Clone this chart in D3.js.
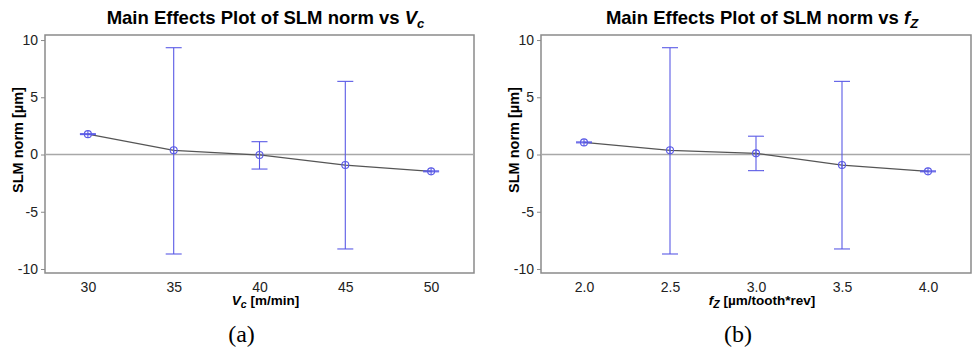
<!DOCTYPE html>
<html>
<head>
<meta charset="utf-8">
<script src="https://cdn.jsdelivr.net/npm/d3@7"></script>
<style>
  body { margin: 0; background: #fff; }
  svg { display: block; }
  text { font-family: Arial, "Liberation Sans", sans-serif; }
</style>
</head>
<body>
<svg id="svg" width="974" height="354"></svg>
<script>
// panel (a): cutting speed
const vcLevels = [30, 35, 40, 45, 50];
const vcMeans = [1.78, 0.37, -0.04, -0.92, -1.47];
const vcLow = [1.74, -8.69, -1.27, -8.25, -1.51];
const vcHigh = [1.82, 9.33, 1.12, 6.39, -1.43];
const vcTicks = [30, 35, 40, 45, 50];

// panel (b): feed per tooth
const fzLevels = [2.0, 2.5, 3.0, 3.5, 4.0];
const fzMeans = [1.06, 0.37, 0.1, -0.92, -1.47];
const fzLow = [1.02, -8.69, -1.41, -8.25, -1.51];
const fzHigh = [1.1, 9.33, 1.6, 6.39, -1.43];
const fzTicks = [2.0, 2.5, 3.0, 3.5, 4.0];

const yTicks = [-10, -5, 0, 5, 10];

const svg = d3.select('#svg');

function drawPanel(opt) {
  const g = svg.append('g');
  const x = d3.scaleLinear().domain(opt.xDomain).range([opt.left, opt.right]);
  const y = d3.scaleLinear().domain([-10.35, 10.44]).range([273, 35]);

  // frame
  g.append('rect')
    .attr('x', opt.left).attr('y', 35)
    .attr('width', opt.right - opt.left).attr('height', 238)
    .attr('fill', 'none').attr('stroke', '#8a8a8a').attr('stroke-width', 1.5);

  // axes
  const yAxis = g.append('g')
    .attr('transform', `translate(${opt.left},0)`)
    .call(d3.axisLeft(y).tickValues(yTicks).tickFormat(d => String(d)).tickSize(4).tickPadding(3));
  const xAxis = g.append('g')
    .attr('transform', 'translate(0,273)')
    .call(d3.axisBottom(x).tickValues(opt.ticks).tickFormat(opt.fmt).tickSize(0).tickPadding(9));
  [yAxis, xAxis].forEach(a => {
    a.select('.domain').remove();
    a.selectAll('line').attr('stroke', '#8a8a8a');
    a.selectAll('text').attr('font-size', 14).attr('fill', '#222')
      .style('font-family', 'Arial, "Liberation Sans", sans-serif');
  });

  // zero reference line
  g.append('line')
    .attr('x1', opt.left).attr('x2', opt.right)
    .attr('y1', y(0)).attr('y2', y(0))
    .attr('stroke', '#a8a8a8').attr('stroke-width', 1.3);

  const pts = opt.levels.map((v, i) => ({x: v, m: opt.means[i], lo: opt.low[i], hi: opt.high[i]}));

  // mean line
  g.append('path')
    .datum(pts)
    .attr('fill', 'none').attr('stroke', '#555').attr('stroke-width', 1.3)
    .attr('d', d3.line().x(d => x(d.x)).y(d => y(d.m)));

  // error bars
  const eb = g.append('g').attr('stroke', '#5a5ae6').attr('stroke-width', 1.1).attr('fill', 'none');
  pts.forEach(d => {
    const cx = x(d.x);
    eb.append('line').attr('x1', cx).attr('x2', cx).attr('y1', y(d.lo)).attr('y2', y(d.hi));
    eb.append('line').attr('x1', cx - 8).attr('x2', cx + 8).attr('y1', y(d.lo)).attr('y2', y(d.lo));
    eb.append('line').attr('x1', cx - 8).attr('x2', cx + 8).attr('y1', y(d.hi)).attr('y2', y(d.hi));
    eb.append('circle').attr('cx', cx).attr('cy', y(d.m)).attr('r', 3.5);
    eb.append('line').attr('x1', cx).attr('x2', cx).attr('y1', y(d.m) - 3.5).attr('y2', y(d.m) + 3.5);
  });

  const mid = (opt.left + opt.right) / 2;

  // title
  const t = g.append('text')
    .attr('x', mid + 6).attr('y', 24)
    .attr('text-anchor', 'middle')
    .attr('font-size', 18.5).attr('font-weight', 'bold');
  t.append('tspan').text('Main Effects Plot of SLM norm vs ');
  t.append('tspan').attr('font-style', 'italic').text(opt.sym);
  t.append('tspan').attr('font-style', 'italic').attr('font-size', 13).attr('dy', 4).text(opt.sub);

  // y label
  g.append('text')
    .attr('transform', `translate(${opt.left - 22},140) rotate(-90)`)
    .attr('text-anchor', 'middle')
    .attr('font-size', 14.5).attr('font-weight', 'bold')
    .text('SLM norm [µm]');

  // x label
  const xl = g.append('text')
    .attr('x', mid + 6).attr('y', 305)
    .attr('text-anchor', 'middle')
    .attr('font-size', 13.5).attr('font-weight', 'bold');
  xl.append('tspan').attr('font-style', 'italic').text(opt.sym);
  xl.append('tspan').attr('font-style', 'italic').attr('font-size', 10.5).attr('dy', 3).text(opt.sub);
  xl.append('tspan').attr('dy', -3).text(' ' + opt.unit);

  // panel letter
  g.append('text')
    .attr('x', mid - 18).attr('y', 342)
    .attr('text-anchor', 'middle')
    .attr('font-size', 24)
    .style('font-family', '"Liberation Serif", "DejaVu Serif", serif')
    .text(opt.letter);
}

drawPanel({
  left: 45, right: 474, xDomain: [27.5, 52.5], ticks: vcTicks, fmt: d3.format('d'),
  levels: vcLevels, means: vcMeans, low: vcLow, high: vcHigh,
  sym: 'V', sub: 'c', unit: '[m/min]', letter: '(a)'
});

drawPanel({
  left: 541, right: 971, xDomain: [1.75, 4.25], ticks: fzTicks, fmt: d3.format('.1f'),
  levels: fzLevels, means: fzMeans, low: fzLow, high: fzHigh,
  sym: 'f', sub: 'Z', unit: '[µm/tooth*rev]', letter: '(b)'
});
</script>
</body>
</html>
